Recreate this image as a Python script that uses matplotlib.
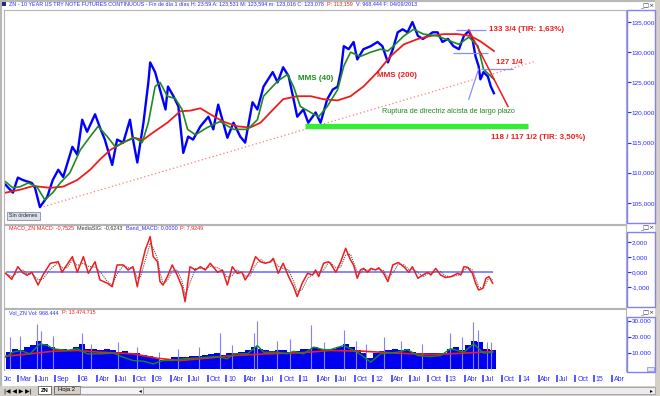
import numpy as np
import matplotlib.pyplot as plt
from matplotlib.patches import Rectangle
from matplotlib.ticker import FuncFormatter

plt.rcParams['font.family'] = ['Liberation Sans', 'DejaVu Sans']

# x values are months counted from Jan 2007 (0 = Jan 2007)

# price (closes)
price_m = [0, 1.2, 2.0, 2.8, 4.3, 4.8, 5.6, 6.8, 7.7, 8.6,
           9.4, 10.9, 11.7, 12.5, 13.3, 14.6, 15.4, 16.2, 17.4, 18.2,
           19.2, 20.3, 20.8, 21.5, 22.5, 23.3, 23.6, 24.4, 25.2, 26.1,
           26.5, 27.4, 28.2, 29.0, 29.8, 30.6, 31.8, 33.1, 33.9, 34.7,
           36.2, 37.2, 38.3, 39.1, 40.3, 41.1, 42.1, 43.6, 44.4, 45.3,
           46.2, 47.0, 47.6, 48.6, 49.4, 50.6, 51.4, 52.5, 53.4, 54.2,
           54.7, 55.2, 56.0, 56.8, 57.4, 58.4, 59.6, 60.7, 61.5, 62.4,
           63.2, 64.0, 64.8, 65.6, 66.4, 67.3, 68.1, 68.9, 69.7, 70.5,
           71.3, 72.2, 73.1, 74.0, 74.8, 75.6, 76.2, 76.7, 77.2, 77.5,
           78.0, 78.7, 79.2, 79.7]
price_c = [108.0, 106.7, 109.2, 108.8, 108.3, 107.5, 104.3, 106.0, 108.8, 110.5,
           109.3, 114.3, 113.0, 118.8, 116.8, 119.7, 117.5, 115.5, 111.3, 115.5,
           115.0, 118.8, 115.5, 111.7, 118.3, 125.0, 128.3, 126.7, 123.8, 120.5,
           124.3, 122.7, 121.0, 113.3, 116.0, 115.5, 117.7, 119.3, 117.2, 121.3,
           115.8, 118.3, 116.0, 115.0, 121.7, 120.5, 124.3, 126.7, 125.0, 127.5,
           126.0, 122.2, 119.3, 120.5, 118.3, 120.0, 118.3, 122.2, 123.8, 124.3,
           126.7, 131.0, 130.5, 131.7, 128.8, 130.5, 131.0, 131.7, 131.0, 128.3,
           130.5, 133.3, 133.8, 133.3, 135.0, 132.7, 132.2, 132.7, 133.3, 133.3,
           131.7, 132.2, 131.0, 130.5, 132.7, 133.5, 132.2, 129.3, 127.7, 125.5,
           126.7, 126.0, 124.3, 123.2]

# MMS (200)
ma200_m = [0, 2.4, 4.5, 7.3, 9.4, 11.7, 13.8, 15.4, 17.1, 19.2,
           20.8, 22.5, 24.1, 26.4, 28.5, 30.1, 31.8, 33.4, 35.5, 37.8,
           39.9, 41.6, 43.2, 45.3, 47.6, 49.8, 51.9, 54.2, 56.3, 58.4,
           60.7, 62.8, 65.0, 67.3, 69.4, 71.5, 73.8, 75.9, 77.5, 79.7]
ma200 = [106.7, 107.2, 107.8, 107.5, 107.7, 108.8, 110.5, 112.2, 113.8, 115.0,
         115.8, 115.5, 116.7, 118.3, 120.2, 120.3, 120.7, 119.7, 118.5, 117.7,
         117.5, 118.3, 120.0, 122.2, 122.7, 122.7, 122.2, 122.0, 122.7, 124.3,
         126.7, 129.3, 131.3, 132.2, 132.7, 133.0, 133.0, 132.7, 131.8, 130.2]

# MMS (40)
ma40_m = [0, 1.2, 2.4, 3.7, 5.1, 6.4, 7.7, 8.9, 10.5, 12.2,
          13.8, 15.1, 16.6, 17.9, 19.5, 21.1, 22.3, 23.3, 24.4, 25.2,
          26.4, 27.7, 28.8, 29.7, 31.0, 32.9, 35.0, 37.2, 39.5, 41.1,
          42.1, 44.4, 46.0, 47.0, 48.1, 49.8, 51.1, 52.5, 54.2, 55.2,
          56.3, 57.9, 59.6, 61.2, 62.4, 63.3, 65.0, 66.6, 68.2, 70.5,
          72.7, 74.0, 75.6, 77.1, 78.0, 79.2, 79.7]
ma40 = [108.5, 107.5, 107.7, 108.3, 107.7, 105.5, 106.7, 108.3, 110.0, 113.8,
        116.0, 117.7, 116.0, 114.3, 115.2, 115.8, 115.0, 118.3, 124.3, 125.0,
        122.7, 122.3, 120.5, 117.2, 116.3, 117.5, 118.5, 117.2, 117.2, 118.8,
        122.7, 125.2, 126.3, 124.3, 121.0, 120.0, 119.3, 121.0, 123.8, 127.7,
        130.0, 129.3, 130.0, 130.5, 130.2, 131.0, 132.7, 133.8, 133.0, 132.7,
        131.8, 131.3, 132.5, 131.0, 127.2, 126.0, 125.5]

# MACD and its signal line
macd_m = [0, 1.0, 2.0, 2.8, 3.5, 4.3, 5.3, 6.1, 7.3, 8.6,
          9.2, 10.0, 10.9, 11.7, 12.7, 13.5, 14.6, 15.4, 16.6, 17.4,
          18.2, 19.2, 20.0, 20.8, 21.5, 22.0, 22.8, 23.6, 24.1, 24.8,
          25.2, 25.7, 26.4, 27.2, 28.0, 28.8, 29.3, 30.1, 31.0, 31.8,
          32.6, 33.4, 34.6, 35.4, 36.2, 37.0, 37.8, 38.6, 39.1, 39.9,
          40.8, 41.6, 42.4, 43.2, 43.7, 44.5, 45.3, 46.2, 47.0, 47.6,
          48.4, 49.3, 50.1, 50.6, 51.1, 51.9, 52.7, 53.0, 53.9, 54.7,
          55.5, 56.3, 56.8, 57.4, 57.9, 58.4, 59.1, 59.6, 60.4, 60.9,
          61.7, 62.4, 63.2, 64.1, 65.0, 65.8, 66.4, 67.3, 68.1, 68.9,
          69.4, 70.2, 71.0, 71.8, 72.7, 73.8, 74.3, 74.8, 75.4, 76.2,
          76.7, 77.2, 77.9, 78.4, 78.9, 79.5]
macd = [-0.07, -0.47, 0.37, -0.03, -0.2, 0.0, -0.85, -0.18, 0.6, 0.7,
        0.0, 0.49, 1.04, 0.0, 1.04, -0.07, 0.7, -0.51, -0.73, -0.96,
        0.49, 0.49, 0.15, 0.37, -0.96, 0.15, 1.49, 2.38, 1.04, 0.7,
        -0.62, -0.85, -0.29, 0.49, -0.18, -0.96, -1.96, 0.37, 0.15, 0.37,
        0.15, 0.6, 0.0, 0.15, -0.85, 0.37, -0.07, 0.0, -0.51, 0.0,
        1.04, 0.7, 0.6, 0.7, 0.93, -0.07, 0.6, -0.29, -0.96, -1.62,
        -0.73, -0.07, -0.18, 0.15, -0.29, 0.6, 0.7, 0.6, 0.0, 0.7,
        1.6, 0.82, 0.49, -0.4, 0.15, 0.26, 0.0, 0.26, 0.15, 0.3,
        -0.07, -0.62, 0.49, 0.65, 0.37, 0.0, 0.37, -0.4, -0.18, 0.0,
        -0.18, 0.26, -0.18, -0.35, -0.29, -0.07, -0.18, 0.37, 0.33, -0.07,
        -0.73, -1.18, -1.07, -0.4, -0.29, -0.73]
signal = [-0.05, -0.3, 0.0, 0.15, -0.1, -0.1, -0.5, -0.45, 0.2, 0.65,
          0.3, 0.3, 0.8, 0.45, 0.6, 0.4, 0.35, 0.05, -0.6, -0.85,
          -0.1, 0.45, 0.3, 0.3, -0.4, -0.35, 0.8, 1.95, 1.6, 0.9,
          0.0, -0.75, -0.55, 0.1, 0.15, -0.6, -1.5, -0.7, 0.25, 0.25,
          0.25, 0.4, 0.3, 0.1, -0.35, -0.2, 0.15, -0.05, -0.25, -0.25,
          0.5, 0.85, 0.65, 0.65, 0.8, 0.4, 0.25, 0.15, -0.6, -1.3,
          -1.15, -0.4, -0.15, 0.0, -0.05, 0.15, 0.65, 0.65, 0.3, 0.35,
          1.15, 1.2, 0.65, 0.05, -0.1, 0.2, 0.15, 0.15, 0.2, 0.2,
          0.1, -0.35, -0.05, 0.55, 0.5, 0.2, 0.2, 0.0, -0.3, -0.1,
          -0.1, 0.05, 0.05, -0.25, -0.3, -0.2, -0.12, 0.1, 0.35, 0.15,
          -0.4, -0.95, -1.1, -0.75, -0.35, -0.5]

# volume (monthly body, spikes, and its two averages)
vol_m = np.arange(80)
vol = [11000, 13000, 12000, 14000, 15000, 18000, 16000, 14000, 13000, 13000,
       12000, 14000, 16000, 13000, 13000, 12000, 13000, 12000, 11000, 11500,
       10500, 10000, 9000, 8500, 7000, 6000, 6500, 7500, 8000, 8000,
       8500, 8500, 9000, 9500, 10000, 9000, 10000, 10500, 11000, 12000,
       14000, 13000, 12000, 11500, 12000, 12000, 11000, 11500, 12500, 13000,
       14000, 13000, 12500, 13000, 14000, 16000, 14000, 12000, 10000, 7000,
       10500, 11500, 12000, 12500, 12000, 13000, 11000, 10500, 10000, 10000,
       10500, 10000, 12500, 14000, 12000, 15000, 18000, 17000, 13000, 12000]
spike_m = [0.7, 2.4, 5.1, 5.8, 7.8, 12.5, 14.0, 18.4, 21.4, 25.0,
           28.2, 31.5, 35.0, 37.0, 40.5, 41.1, 44.3, 46.5, 49.8, 52.0,
           55.2, 57.2, 58.8, 61.7, 64.5, 67.9, 72.6, 74.5, 76.3, 77.1,
           78.6, 79.3]
spike_v = [20500, 21000, 28700, 24000, 21000, 22500, 16000, 17000, 14000, 11000,
           13000, 14000, 22500, 15000, 23000, 30600, 18000, 19000, 27500, 17000,
           24400, 18000, 16000, 20000, 18000, 16000, 22500, 20000, 29400, 24400,
           17000, 17000]
vred_m = [0, 4.5, 7.7, 11.7, 15.4, 20.8, 24.8, 28.5, 31.8, 37.2,
          42.7, 48.1, 53.0, 58.4, 64.0, 69.4, 74.8, 79.5]
vred = [8300, 10000, 11400, 11900, 10800, 9800, 7000, 5600, 6700, 8700,
        9800, 10400, 11900, 11400, 10200, 9400, 10200, 11200]
vgreen_m = [0, 1.2, 2.4, 4.0, 5.6, 6.9, 7.7, 10.0, 11.7, 13.3,
            15.4, 17.6, 19.2, 20.8, 22.5, 24.1, 25.7, 27.4, 29.0, 31.8,
            34.6, 36.2, 37.2, 39.5, 41.1, 42.1, 44.4, 46.0, 47.0, 48.6,
            50.3, 51.9, 53.0, 55.2, 57.4, 59.6, 61.2, 64.0, 65.6, 67.3,
            69.4, 71.0, 72.6, 74.8, 76.4, 78.0, 79.5]
vgreen = [7700, 10800, 11900, 9800, 16000, 15000, 13000, 11900, 13000, 9800,
          9800, 10200, 7700, 5600, 5200, 3500, 5600, 5600, 6700, 7300,
          8100, 6700, 9800, 9800, 15000, 10800, 10800, 9800, 11400, 9800,
          14000, 12400, 12400, 15000, 10800, 4600, 9800, 10800, 12400, 8700,
          8100, 8700, 13000, 10800, 16000, 10200, 10800]

# hand drawn studies on the price panel
support_m = [5.6, 86.5]          # long term dotted trend line
support_v = [104.2, 128.5]
fall_m = [75.6, 82.0]            # red falling line
fall_v = [133.7, 121.0]
target_m = [48.9, 85.2]          # green target band
target_v = 117.75
levels = [133.75, 129.8, 127.25]
level_m = [(73.5, 78.4), (73.1, 78.7), (77.6, 82.8)]
diag_m = [75.6, 77.2]
diag_v = [122.2, 127.2]

# date axis
tick_m = [-1, 2, 5, 8, 12, 15, 18, 21, 24, 27, 30, 33, 36, 39, 42, 45, 48,
          51, 54, 57, 60, 63, 66, 69, 72, 75, 78, 81, 84, 87, 90, 93, 96, 99]
tick_labels = ['Dic', 'Mar', 'Jun', 'Sep',
               '08', 'Abr', 'Jul', 'Oct', '09', 'Abr', 'Jul', 'Oct',
               '10', 'Abr', 'Jul', 'Oct', '11', 'Abr', 'Jul', 'Oct',
               '12', 'Abr', 'Jul', 'Oct', '13', 'Abr', 'Jul', 'Oct',
               '14', 'Abr', 'Jul', 'Oct', '15', 'Abr']

W, H = 660, 396
BLUE = '#2a2aff'
RED = '#ee1c1c'
GREEN = '#1f8a1f'
GREY = '#d4d0c8'

fig = plt.figure(figsize=(W / 100, H / 100), dpi=100, facecolor='white')


def rect(x0, y0, x1, y1):
    return [x0 / W, 1 - y1 / H, (x1 - x0) / W, (y1 - y0) / H]


def fig_box(x0, y0, x1, y1, **kw):
    fig.add_artist(Rectangle((x0 / W, 1 - y1 / H), (x1 - x0) / W, (y1 - y0) / H,
                             transform=fig.transFigure, **kw))


def header(x, y, parts, size=3.9):
    """Write coloured pieces of text one after another"""
    renderer = fig.canvas.get_renderer()
    for s, c in parts:
        t = fig.text(x / W, 1 - y / H, s, color=c, fontsize=size, ha='left', va='center')
        x += t.get_window_extent(renderer=renderer).width + 3


def icons(y):
    fig.text(654 / W, 1 - y / H, '_\u25a1\u00d7', fontsize=4.5, color='#303030',
             ha='right', va='center', family='DejaVu Sans')


# window frame
fig_box(0, 0, 660, 396, facecolor='none', edgecolor='#b8b8b8', lw=3)
fig_box(655, 0, 660, 396, facecolor=GREY, edgecolor='none')

XLIM = (-0.26, 101.26)
ax_p = fig.add_axes(rect(4, 10, 626, 224))
ax_m = fig.add_axes(rect(4, 225, 626, 308))
ax_v = fig.add_axes(rect(4, 309, 626, 371))
ax_t = fig.add_axes(rect(4, 371, 626, 385))

for ax in (ax_p, ax_m, ax_v, ax_t):
    ax.set_xlim(XLIM)
    ax.set_xticks([])
    for s in ax.spines.values():
        s.set_color('#b4b4b4')
        s.set_linewidth(0.8)


def right_axis(ax, ticks, fmt):
    ax.yaxis.tick_right()
    ax.set_yticks(ticks)
    ax.yaxis.set_major_formatter(FuncFormatter(fmt))
    ax.tick_params(axis='y', direction='out', length=3.6, width=0.8, color=BLUE,
                   labelcolor=BLUE, labelsize=4.6, pad=0.6)


comma3 = lambda v, p: f'{v:.3f}'.replace('.', ',')
right_axis(ax_p, [105, 110, 115, 120, 125, 130, 135], comma3)
right_axis(ax_m, [-1, 0, 1, 2], comma3)
right_axis(ax_v, [10000, 20000, 30000], lambda v, p: f'{int(v):,}'.replace(',', '.'))
ax_t.set_yticks([])

# ---- price panel ----
ax_p.set_ylim(101.5, 137)
ax_p.plot(support_m, support_v, color='#ff7a7a', lw=0.9, ls=(0, (1, 2)))
ax_p.hlines(target_v, *target_m, color='#33ee33', lw=3.8)
ax_p.plot(price_m, price_c, color='#0000ff', lw=1.7)
ax_p.plot(ma200_m, ma200, color=RED, lw=1.3)
ax_p.plot(ma40_m, ma40, color=GREEN, lw=1.2)
for lv, (a, b) in zip(levels, level_m):
    ax_p.hlines(lv, a, b, color='#8c8cff', lw=0.9)
ax_p.plot(diag_m, diag_v, color='#8c8cff', lw=0.9)
ax_p.plot(fall_m, fall_v, color=RED, lw=1.1)

bold = dict(fontsize=5.8, fontweight='bold', va='center', ha='left')
ax_p.text(47.8, 125.7, 'MMS (40)', color=GREEN, **bold)
ax_p.text(60.7, 126.2, 'MMS (200)', color=RED, **bold)
ax_p.text(78.9, 133.7, '133 3/4 (TIR: 1,63%)', color=RED, **bold)
ax_p.text(80.0, 128.3, '127 1/4', color=RED, **bold)
ax_p.text(79.2, 115.8, '118 / 117 1/2 (TIR: 3,50%)', color=RED, **bold)
ax_p.text(61.5, 120.2, 'Ruptura de directriz alcista de largo plazo', color=GREEN,
          fontsize=5.2, va='center', ha='left')

# "Sin ordenes" button
fig_box(7, 212, 40, 220, facecolor='#dde2ea', edgecolor='#7f8fae', lw=0.6)
fig.text(23.5 / W, 1 - 216 / H, 'Sin órdenes', fontsize=3.8, color='#202020',
         ha='center', va='center')

# ---- MACD panel ----
ax_m.set_ylim(-2.38, 3.15)
ax_m.hlines(0, macd_m[0], macd_m[-1], color='#8585ff', lw=1.4)
ax_m.plot(macd_m, signal, color='#555555', lw=0.8, ls=(0, (1, 1)))
ax_m.plot(macd_m, macd, color=RED, lw=1.1)

# ---- volume panel ----
ax_v.set_ylim(-940, 37800)
ax_v.vlines(spike_m, 0, spike_v, color='#8080ff', lw=0.8)
ax_v.bar(vol_m, vol, width=1.0, align='edge', color='#0000f0', lw=0)
ax_v.plot(vred_m, vred, color=RED, lw=1.2)
ax_v.plot(vgreen_m, vgreen, color='#1a8a1a', lw=1.0)
ax_v.spines['bottom'].set_color('#9a9aff')

# ---- date strip ----
ax_t.set_ylim(0, 1)
for s in ax_t.spines.values():
    s.set_visible(False)
ax_t.vlines(tick_m, 0.2, 0.7, color=BLUE, lw=1.1)
for m, lab in zip(tick_m, tick_labels):
    ax_t.text(m + 0.3, 0.4, lab, color=BLUE, fontsize=5, ha='left', va='center',
              clip_on=True)

# right label boxes
for y0, y1 in [(10, 223), (232, 307), (317, 372)]:
    fig_box(627, y0, 655, y1, facecolor='none', edgecolor='#8080ff', lw=1)
fig_box(647, 367, 654, 371, facecolor='#e8e8e8', edgecolor='#8080ff', lw=0.5)

# panel headers
header(9, 4, [('ZN - 10 YEAR US TRY NOTE FUTURES CONTINUOUS - Fin de día 1 días H: 23:59 '
               'A: 123,531 M: 123,594 m: 123,016 C: 123,078', BLUE),
              ('P: 113,159', RED), ('V: 968.444 F: 04/09/2013', BLUE)])
header(9, 227.5, [('MACD_ZN MACD: -0,7525', RED), ('MediaSIG: -0,6243', '#333333'),
                  ('Band_MACD: 0,0000', BLUE), ('P: 7,9249', RED)])
header(9, 313, [('Vol_ZN Vol: 968.444', BLUE), ('P: 13.474.715', RED)])
fig_box(2, 2, 6, 6, facecolor='#2a2a80', edgecolor='none')
for y in (6, 228, 313):
    icons(y)

# bottom sheet tabs
fig_box(0, 386, 660, 396, facecolor=GREY, edgecolor='none')
fig.text(4 / W, 1 - 391 / H, '|\u25c0 \u25c0 \u25b6 \u25b6|', fontsize=4.2, color='black',
         ha='left', va='center', family='DejaVu Sans')
fig_box(38, 386, 51, 394, facecolor='white', edgecolor='#606060', lw=0.6)
fig.text(44.5 / W, 1 - 390 / H, 'ZN', fontsize=4.2, fontweight='bold', ha='center', va='center')
fig_box(54, 386, 80, 394, facecolor=GREY, edgecolor='#606060', lw=0.6)
fig.text(67 / W, 1 - 390 / H, 'Hoja 2', fontsize=4.2, ha='center', va='center')
fig_box(80, 387, 143, 394, facecolor='#f4f4f4', edgecolor='#909090', lw=0.5)
fig_box(143, 387, 655, 394, facecolor='#ececec', edgecolor='#909090', lw=0.5)
fig.text(140 / W, 1 - 390.5 / H, '\u25c2', fontsize=4, ha='center', va='center',
         family='DejaVu Sans')
fig.text(651 / W, 1 - 390.5 / H, '\u25b8', fontsize=4, ha='center', va='center',
         family='DejaVu Sans')

fig.savefig('out.png', dpi=100, facecolor=fig.get_facecolor())
